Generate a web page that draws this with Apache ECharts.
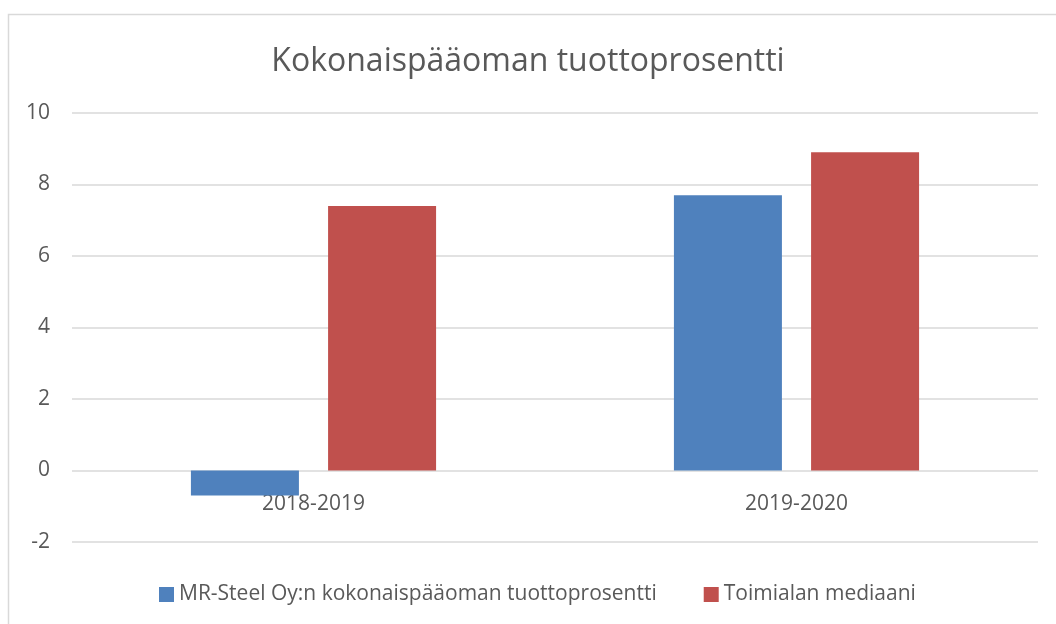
<!DOCTYPE html>
<html>
<head>
<meta charset="utf-8">
<script src="https://cdn.jsdelivr.net/npm/echarts@6/dist/echarts.min.js"></script>
<style>
  html, body { margin: 0; padding: 0; background: #fff; }
  #container { width: 1056px; height: 624px; }
</style>
</head>
<body>
<div id="container"></div>
<script>
// chart data
const categories = ['2018-2019', '2019-2020'];
const companyName = 'MR-Steel Oy:n kokonaispääoman tuottoprosentti';
const medianName = 'Toimialan mediaani';
const companyValues = [-0.7, 7.7];
const medianValues = [7.4, 8.9];

const textColor = '#595959';
const fontFam = '"Open Sans", "Noto Sans", sans-serif';

let option = {
    animation: false,
    backgroundColor: '#fff',
    title: {
        text: 'Kokonaispääoman tuottoprosentti',
        left: 'center',
        top: 41,
        textStyle: {
            color: textColor,
            fontFamily: fontFam,
            fontWeight: 'normal',
            fontSize: 32
        }
    },
    legend: {
        bottom: 14,
        left: 154,
        itemWidth: 15,
        itemHeight: 15,
        itemGap: 47,
        icon: 'rect',
        textStyle: {
            color: textColor,
            fontFamily: fontFam,
            fontSize: 21
        },
        data: [companyName, medianName]
    },
    grid: {
        left: 72,
        right: 18,
        top: 113,
        bottom: 82
    },
    xAxis: {
        type: 'category',
        data: categories,
        // category labels sit just under the zero line (y = -2 .. 0 is one band)
        offset: -71.5,
        axisLine: { show: false, onZero: false },
        axisTick: { show: false },
        axisLabel: {
            color: textColor,
            fontFamily: fontFam,
            fontSize: 21,
            margin: 23
        }
    },
    yAxis: {
        type: 'value',
        min: -2,
        max: 10,
        interval: 2,
        axisLine: { show: false },
        axisTick: { show: false },
        axisLabel: {
            color: textColor,
            fontFamily: fontFam,
            fontSize: 21,
            margin: 22
        },
        splitLine: { lineStyle: { color: '#d9d9d9', width: 1.5 } }
    },
    series: [
        {
            name: companyName,
            type: 'bar',
            data: companyValues,
            barWidth: 108,
            barGap: '27%',
            itemStyle: { color: '#4f81bd' }
        },
        {
            name: medianName,
            type: 'bar',
            data: medianValues,
            barWidth: 108,
            itemStyle: { color: '#c0504d' }
        }
    ],
    graphic: [
        {
            type: 'rect',
            silent: true,
            shape: { x: 8.5, y: 14.5, width: 1200, height: 700 },
            style: { fill: 'none', stroke: '#d9d9d9', lineWidth: 1.5 }
        }
    ]
};

let chrt = echarts.init(document.getElementById('container'));
chrt.setOption(option);
</script>
</body>
</html>
